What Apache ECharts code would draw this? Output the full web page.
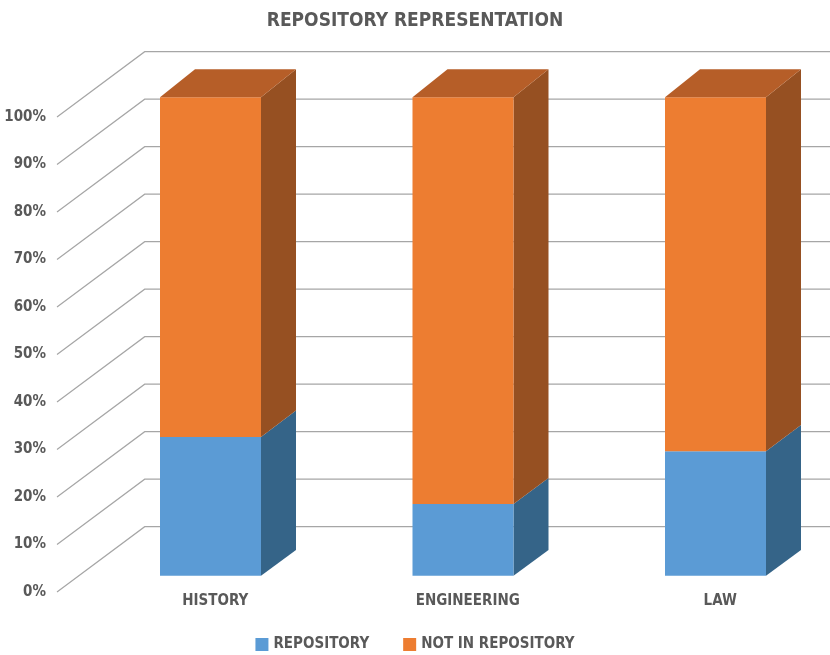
<!DOCTYPE html>
<html>
<head>
<meta charset="utf-8">
<script src="https://cdn.jsdelivr.net/npm/echarts@6/dist/echarts.min.js"></script>
<style>html,body{margin:0;padding:0;background:#fff}#c{width:830px;height:655px}</style>
</head>
<body>
<div id="c"></div>
<script>
const categories = ['HISTORY', 'ENGINEERING', 'LAW'];
const repository = [29, 15, 26];
const notInRepository = [71, 85, 74];
const yTicks = [0, 10, 20, 30, 40, 50, 60, 70, 80, 90, 100];
const seriesNames = ['REPOSITORY', 'NOT IN REPOSITORY'];

const FONT = "'Liberation Sans Narrow', 'DejaVu Sans Condensed', sans-serif";
const TXT = '#595959';
const GRID_C = '#A6A6A6';
// 3D geometry (pixels)
const WALL_DX = 87.7, WALL_DY = -65.3;
const FX = 27.25, FY = -16.3, PS = 1.0072;
const BX = 35, BY0 = -25.7, PSB = 1.012;

const colors = [
  { front: '#5B9BD5', side: '#356488', top: '#4A7FB0' },
  { front: '#ED7D31', side: '#965022', top: '#B65E28' }
];

function barRender(sIdx) {
  return function (params, api) {
    const ci = api.value(0), base = api.value(1), top = api.value(2);
    const y0 = api.coord([ci, 0])[1];
    const cx = api.coord([ci, 0])[0] + FX;
    const bw = api.size([1, 0])[0] * 0.4;
    const yb = api.coord([ci, base])[1], yt = api.coord([ci, top])[1];
    const fy = y => y0 + FY - (y0 - y) * PS;
    const by = y => y0 + FY + BY0 - (y0 - y) * PSB;
    const xl = cx - bw / 2, xr = cx + bw / 2;
    const fb = fy(yb), ft = fy(yt), bb = by(yb), bt = by(yt);
    const c = colors[sIdx];
    const children = [
      { type: 'polygon', shape: { points: [[xr, fb], [xr + BX, bb], [xr + BX, bt], [xr, ft]] }, style: { fill: c.side } },
      { type: 'rect', shape: { x: xl, y: ft, width: bw, height: fb - ft }, style: { fill: c.front } }
    ];
    if (sIdx === 1) {
      children.push({ type: 'polygon', shape: { points: [[xl, ft], [xr, ft], [xr + BX, bt], [xl + BX, bt]] }, style: { fill: c.top } });
    }
    return { type: 'group', children: children };
  };
}

const repData = categories.map((c, i) => [i, 0, repository[i]]);
const notData = categories.map((c, i) => [i, repository[i], repository[i] + notInRepository[i]]);

const chart = echarts.init(document.getElementById('c'), null, { renderer: 'canvas' });
chart.setOption({
  backgroundColor: '#fff',
  animation: false,
  title: {
    text: 'REPOSITORY REPRESENTATION', left: 'center', top: 7,
    textStyle: { fontFamily: FONT, fontWeight: 'bold', fontSize: 19, color: TXT }
  },
  legend: {
    bottom: 3, left: 'center', padding: 0, itemWidth: 13, itemHeight: 13, itemGap: 34, icon: 'rect',
    data: seriesNames,
    textStyle: { fontFamily: FONT, fontWeight: 'bold', fontSize: 15, color: TXT }
  },
  grid: { left: 57, top: 117, width: 757.5, height: 475, outerBoundsMode: 'none', containLabel: false },
  xAxis: {
    type: 'category', data: categories,
    axisLine: { show: false }, axisTick: { show: false }, splitLine: { show: false },
    axisLabel: {
      margin: 2,
      formatter: v => '{a|' + v + '}',
      rich: { a: { padding: [0, 0, 0, 64], fontFamily: FONT, fontWeight: 'bold', fontSize: 15, color: TXT } }
    }
  },
  yAxis: {
    type: 'value', min: 0, max: 100, interval: 10,
    axisLine: { show: false }, axisTick: { show: false }, splitLine: { show: false },
    axisLabel: { margin: 11, formatter: '{value}%', fontFamily: FONT, fontWeight: 'bold', fontSize: 15, color: TXT }
  },
  series: [
    {
      type: 'custom', name: 'grid3d', silent: true, clip: false, z: 1,
      data: yTicks.map(v => [0, v]),
      renderItem: function (params, api) {
        const y = api.coord([0, api.value(1)])[1];
        const x0 = params.coordSys.x;
        const xEnd = params.coordSys.x + params.coordSys.width + WALL_DX;
        return {
          type: 'polyline',
          shape: { points: [[x0, y], [x0 + WALL_DX, y + WALL_DY], [xEnd, y + WALL_DY]] },
          style: { stroke: GRID_C, lineWidth: 1.2, fill: null }
        };
      }
    },
    {
      type: 'custom', name: seriesNames[0], clip: false, z: 2,
      itemStyle: { color: colors[0].front },
      encode: { x: 0, y: [1, 2] },
      data: repData, renderItem: barRender(0)
    },
    {
      type: 'custom', name: seriesNames[1], clip: false, z: 3,
      itemStyle: { color: colors[1].front },
      encode: { x: 0, y: [1, 2] },
      data: notData, renderItem: barRender(1)
    }
  ]
});
</script>
</body>
</html>
